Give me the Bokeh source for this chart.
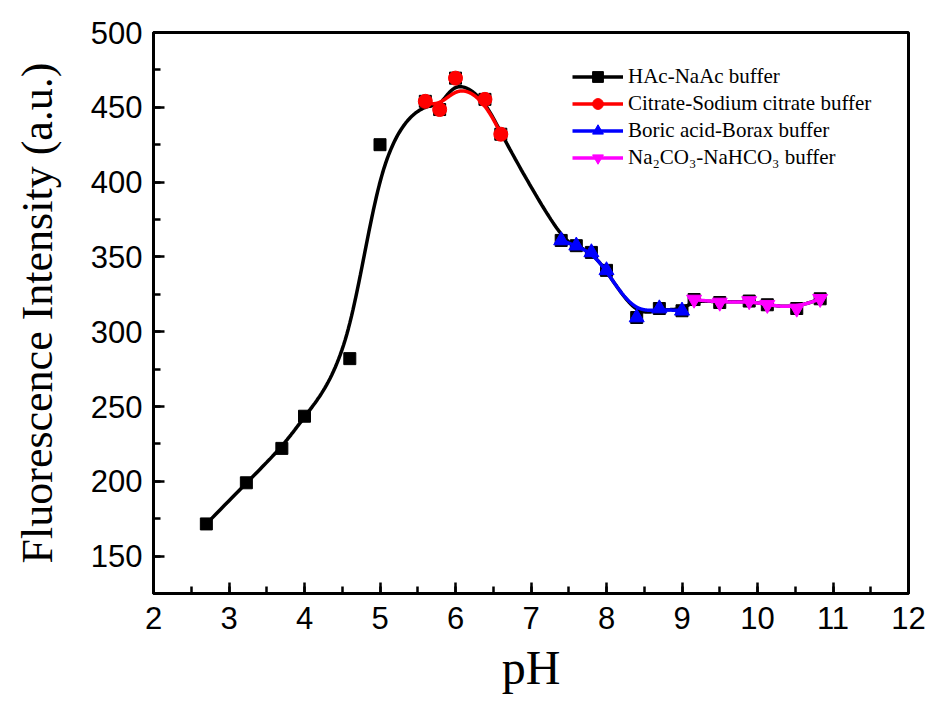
import numpy as np
from bokeh.plotting import figure
from bokeh.models import Legend, LegendItem, FixedTicker
from bokeh.embed import file_html
from bokeh.resources import INLINE

# ---- data ----
ph_hac = [2.70, 3.23, 3.70, 4.00, 4.60, 5.00]
int_hac = [171.5, 199.0, 222.0, 243.5, 282.0, 425.0]

ph_cit = [5.60, 5.79, 6.00, 6.39, 6.60]
int_cit = [454.0, 448.5, 469.5, 455.3, 432.0]

ph_bor = [7.40, 7.60, 7.80, 8.00, 8.40, 8.70, 9.00]
int_bor = [361.0, 357.5, 353.0, 341.0, 309.5, 315.5, 314.0]

ph_na = [9.16, 9.50, 9.89, 10.13, 10.52, 10.83]
int_na = [321.5, 319.5, 320.5, 318.0, 315.5, 322.0]

x_ticks = [2, 3, 4, 5, 6, 7, 8, 9, 10, 11, 12]
y_ticks = [150, 200, 250, 300, 350, 400, 450, 500]

labels = ["HAc-NaAc buffer", "Citrate-Sodium citrate buffer",
          "Boric acid-Borax buffer", "Na\u2082CO\u2083-NaHCO\u2083 buffer"]


def bspline(xs, ys, p=3, num=500):
    """Clamped cubic B-spline using the data points as control points."""
    c = np.column_stack([xs, ys]).astype(float)
    n = len(c)
    t = np.concatenate([np.zeros(p), np.arange(n - p + 1), np.full(p, n - p)]).astype(float)
    us = np.linspace(0, n - p, num)
    out = []
    for u in us:
        k = np.searchsorted(t, u, side="right") - 1
        k = min(k, n - 1)
        d = [c[j + k - p].copy() for j in range(p + 1)]
        for r in range(1, p + 1):
            for j in range(p, r - 1, -1):
                den = t[j + 1 + k - r] - t[j + k - p]
                a = 0.0 if den == 0 else (u - t[j + k - p]) / den
                d[j] = (1.0 - a) * d[j - 1] + a * d[j]
        out.append(d[p])
    out = np.array(out)
    return out[:, 0], out[:, 1]


all_x = ph_hac + ph_cit + ph_bor + ph_na
all_y = int_hac + int_cit + int_bor + int_na

p = figure(width=931, height=706, x_range=(2, 12), y_range=(125, 500),
           output_backend="svg", toolbar_location=None,
           min_border_left=153, min_border_right=23,
           min_border_top=32, min_border_bottom=113)

p.grid.visible = False
p.outline_line_color = "black"
p.outline_line_width = 3
p.background_fill_color = "white"
p.border_fill_color = "white"

LW = 3.5
bx, by = bspline(all_x, all_y)
r_bl = p.line(bx, by, line_color="black", line_width=LW)
r_bm = p.scatter(all_x, all_y, marker="square", size=12, fill_color="black", line_color="black")

cx, cy = bspline(ph_cit, int_cit)
r_rl = p.line(cx, cy, line_color="red", line_width=LW)
r_rm = p.scatter(ph_cit, int_cit, marker="circle", size=14, fill_color="red", line_color="red")

ox, oy = bspline(ph_bor, int_bor)
r_ul = p.line(ox, oy, line_color="blue", line_width=LW)
r_um = p.scatter(ph_bor, int_bor, marker="triangle", size=15, fill_color="blue", line_color="blue")

nx, ny = bspline(ph_na, int_na)
r_ml = p.line(nx, ny, line_color="magenta", line_width=LW)
r_mm = p.scatter(ph_na, int_na, marker="inverted_triangle", size=15, fill_color="magenta", line_color="magenta")

# axes
for ax in (p.xaxis[0], p.yaxis[0]):
    ax.axis_line_width = 3
    ax.axis_line_color = "black"
    ax.major_tick_line_width = 2.5
    ax.minor_tick_line_width = 2.5
    ax.major_tick_in = 11
    ax.major_tick_out = 0
    ax.minor_tick_in = 7
    ax.minor_tick_out = 0
    ax.major_label_text_font = "Liberation Sans"
    ax.major_label_text_font_size = "31px"
    ax.major_label_text_color = "black"
    ax.axis_label_text_font = "Liberation Serif"
    ax.axis_label_text_font_style = "normal"
    ax.axis_label_text_color = "black"

p.xaxis.ticker = FixedTicker(ticks=x_ticks, minor_ticks=list(np.arange(2, 12.01, 0.5)))
p.yaxis.ticker = FixedTicker(ticks=y_ticks, minor_ticks=list(range(125, 501, 25)))
p.xaxis.axis_label = "pH"
p.xaxis.axis_label_text_font_size = "48px"
p.xaxis.major_label_standoff = 13
p.xaxis.axis_label_standoff = 9
p.yaxis.axis_label = "Fluorescence Intensity (a.u.)"
p.yaxis.axis_label_text_font_size = "44px"
p.yaxis.major_label_standoff = 11
p.yaxis.axis_label_standoff = 26

legend = Legend(items=[
    LegendItem(label=labels[0], renderers=[r_bl, r_bm]),
    LegendItem(label=labels[1], renderers=[r_rl, r_rm]),
    LegendItem(label=labels[2], renderers=[r_ul, r_um]),
    LegendItem(label=labels[3], renderers=[r_ml, r_mm]),
], location=(419, 422))
legend.border_line_color = None
legend.background_fill_alpha = 0
legend.label_text_font = "Liberation Serif"
legend.label_text_font_size = "21px"
legend.label_text_color = "black"
legend.glyph_width = 51
legend.glyph_height = 27
legend.label_height = 27
legend.label_standoff = 5
legend.spacing = 0
legend.padding = 0
legend.margin = 0
p.add_layout(legend)

open("out.html", "w").write(file_html(p, INLINE))
